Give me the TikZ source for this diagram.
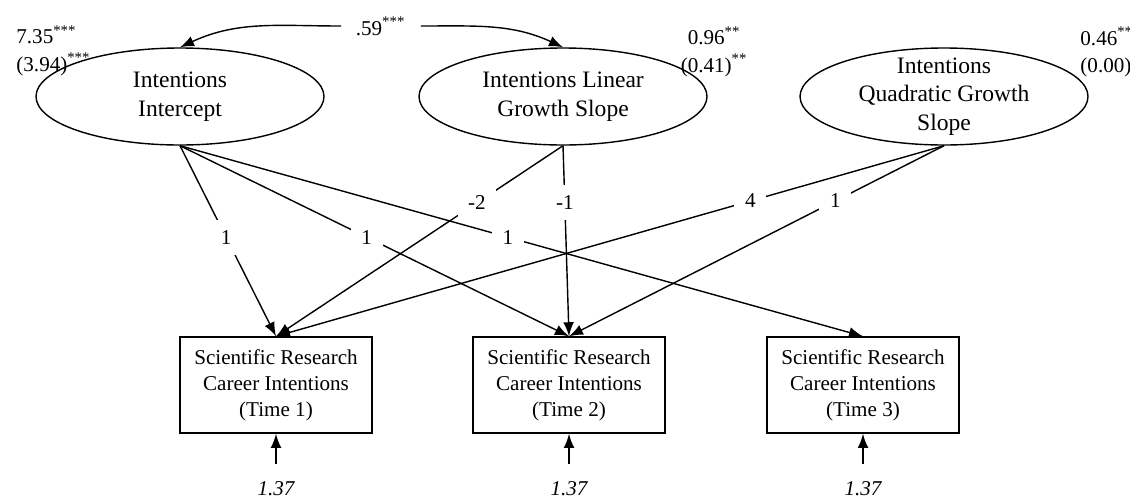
\documentclass[tikz,border=0pt]{standalone}
\usepackage{fontspec}
\setmainfont{Liberation Serif}
\usetikzlibrary{shapes.geometric}
\newcommand{\sigstars}[1]{\textsuperscript{\fontsize{4.2}{4.2}\selectfont #1}}
\begin{document}
\begin{tikzpicture}[>=latex,
  every node/.style={font=\fontsize{6}{7.3}\selectfont},
  latent/.style={draw,ellipse,minimum width=2.88cm,minimum height=.97cm,inner xsep=0pt,inner ysep=-4pt,align=center,font=\fontsize{6.7}{8.1}\selectfont},
  indic/.style={draw,rectangle,minimum width=1.92cm,minimum height=.96cm,align=center,font=\fontsize{6}{7.4}\selectfont},
  coef/.style={fill=white,inner sep=3pt},
  resid/.style={font=\fontsize{6}{7.3}\selectfont\itshape}]
\useasboundingbox (0,0) rectangle (11.3,-4.99);

% growth factors
\node[latent] (icpt) at (1.80,-.965) {Intentions\\Intercept};
\node[latent] (lin) at (5.63,-.965) {Intentions Linear\\Growth Slope};
\node[latent] (quad) at (9.44,-.965) {Intentions\\Quadratic Growth\\Slope};

% means and variances
\node[anchor=west,align=left,font=\fontsize{6}{7.7}\selectfont] (parI) at (.04,-.505) {7.35\sigstars{***}\\(3.94)\sigstars{***}};
\node[align=center,font=\fontsize{6}{7.7}\selectfont] (parL) at (7.145,-.515) {0.96\sigstars{**}\\(0.41)\sigstars{**}};
\node[anchor=west,align=left,font=\fontsize{6}{7.7}\selectfont] (parQ) at (10.68,-.52) {0.46\sigstars{**}\\(0.00)};

% covariance
\node[inner sep=4pt] (cor) at (3.81,-.26) {.59\sigstars{***}};
\draw[->] (cor.west) to[out=180,in=25] (icpt.north);
\draw[->] (cor.east) to[out=0,in=155] (lin.north);

% repeated measures
\node[indic] (t1) at (2.76,-3.85) {Scientific Research\\Career Intentions\\(Time 1)};
\node[indic] (t2) at (5.69,-3.85) {Scientific Research\\Career Intentions\\(Time 2)};
\node[indic] (t3) at (8.63,-3.85) {Scientific Research\\Career Intentions\\(Time 3)};

% loadings
\draw[->] (icpt.south) -- node[coef,pos=.48] {1} (t1.north);
\draw[->] (icpt.south) -- node[coef,pos=.48] {1} (t2.north);
\draw[->] (icpt.south) -- node[coef,pos=.48] {1} (t3.north);
\draw[->] (lin.south) -- node[coef,pos=.3] {-2} (t1.north);
\draw[->] (lin.south) -- node[coef,pos=.3] {-1} (t2.north);
\draw[->] (quad.south) -- node[coef,pos=.29] {4} (t1.north);
\draw[->] (quad.south) -- node[coef,pos=.29] {1} (t2.north);

% residuals
\node[resid] (r1) at (2.76,-4.89) {1.37};
\node[resid] (r2) at (5.69,-4.89) {1.37};
\node[resid] (r3) at (8.63,-4.89) {1.37};
\draw[->,shorten <=1.5pt] (r1.north) -- (t1.south);
\draw[->,shorten <=1.5pt] (r2.north) -- (t2.south);
\draw[->,shorten <=1.5pt] (r3.north) -- (t3.south);
\end{tikzpicture}
\end{document}
